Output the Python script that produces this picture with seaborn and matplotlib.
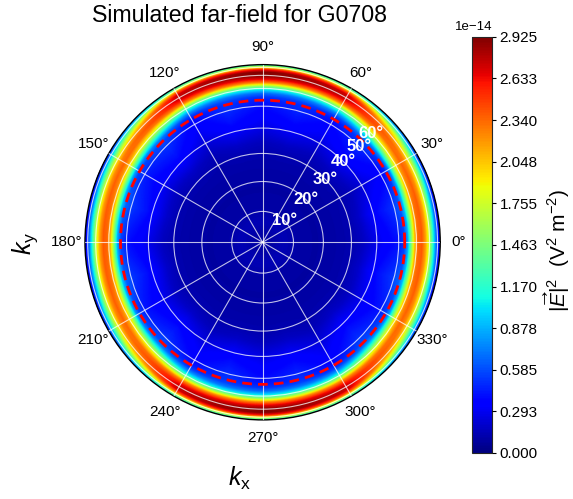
import numpy as np
import matplotlib
matplotlib.use("Agg")
import matplotlib.pyplot as plt
import seaborn as sns

# ---- data (intensity in units of 1e-14 V^2 m^-2) ----
SCALE = 1e-14
r_knots = [0.00, 0.05, 0.12, 0.20, 0.30, 0.40, 0.50, 0.56, 0.62, 0.68, 0.72, 0.76,
           0.80, 0.82, 0.84, 0.86, 0.88, 0.90, 0.92, 0.94, 0.96, 0.975, 0.99, 1.00]
# radial cut along kx (0 deg)
profile_0deg = [0.10, 0.10, 0.14, 0.10, 0.09, 0.10, 0.12, 0.16, 0.24, 0.32, 0.36, 0.40,
                0.55, 0.85, 1.50, 2.10, 2.35, 2.38, 2.15, 1.75, 1.20, 0.80, 0.45, 0.30]
# radial cut along ky (90 deg)
profile_90deg = [0.10, 0.10, 0.14, 0.10, 0.09, 0.10, 0.12, 0.16, 0.24, 0.32, 0.36, 0.40,
                 0.45, 0.52, 0.68, 1.00, 1.50, 2.20, 2.65, 2.90, 2.92, 2.60, 1.80, 1.20]
# weight of the ky cut as a function of azimuth within one quadrant
blend_angles_deg = [0, 15, 30, 45, 60, 75, 90]
blend_weights = [0.00, 0.05, 0.20, 0.50, 0.88, 0.95, 1.00]
# azimuthal unevenness of the faint speckled band inside the ring (every 15 deg)
band_angles_deg = [0, 15, 30, 45, 60, 75, 90, 105, 120, 135, 150, 165,
                   180, 195, 210, 225, 240, 255, 270, 285, 300, 315, 330, 345, 360]
band_factor = [1.00, 1.25, 0.85, 1.20, 0.90, 1.15, 0.95, 1.20, 0.85, 1.25, 1.10, 1.30,
               1.00, 1.30, 1.05, 1.25, 0.90, 1.20, 0.95, 1.15, 0.85, 1.25, 1.05, 1.30, 1.00]
band_r = [0.0, 0.45, 0.60, 0.78, 0.84, 1.0]
band_mask = [0.0, 0.0, 1.0, 1.0, 0.0, 0.0]

vmax = 2.925
cbar_ticks = [0.000, 0.2925, 0.585, 0.8775, 1.170, 1.4625, 1.755, 2.0475, 2.340, 2.6325, 2.925]
cbar_ticklabels = ["0.000", "0.293", "0.585", "0.878", "1.170", "1.463",
                   "1.755", "2.048", "2.340", "2.633", "2.925"]
radial_grid_deg = [10, 20, 30, 40, 50, 60, 70, 80]
radial_label_deg = [10, 20, 30, 40, 50, 60]
theta_ticks_deg = [0, 30, 60, 90, 120, 150, 180, 210, 240, 270, 300, 330]
na_radius = 0.80

# ---- style ----
sns.set_theme(style="white", rc={"text.color": "black", "xtick.color": "black",
                                 "ytick.color": "black", "axes.labelcolor": "black",
                                 "axes.axisbelow": False})
plt.rcParams["font.family"] = ["Liberation Sans", "DejaVu Sans"]
plt.rcParams["mathtext.fontset"] = "custom"
plt.rcParams["mathtext.rm"] = "Liberation Sans"
plt.rcParams["mathtext.it"] = "Liberation Sans:italic"
plt.rcParams["mathtext.bf"] = "Liberation Sans:bold"
cmap = matplotlib.colormaps["jet"]

# ---- far-field grid ----
theta = np.linspace(0, 2 * np.pi, 721)
r = np.linspace(0, 1, 301)
TH, RR = np.meshgrid(theta, r)
phi_q = np.degrees(np.arcsin(np.abs(np.sin(TH))))
w = np.interp(phi_q, blend_angles_deg, blend_weights)
p0 = np.interp(RR, r_knots, profile_0deg)
p90 = np.interp(RR, r_knots, profile_90deg)
base = (1 - w) * p0 + w * p90
speckle = np.interp(np.degrees(TH), band_angles_deg, band_factor)
mask = np.interp(RR, band_r, band_mask)
intensity = base * (1 + mask * (speckle - 1)) * SCALE

fig = plt.figure(figsize=(5.73, 4.99), dpi=100)
ax = fig.add_axes([0.1483, 0.158, 0.62, 0.713], projection="polar")
ax.set_axisbelow(False)
mesh = ax.pcolormesh(TH, RR, intensity, cmap=cmap, vmin=0, vmax=vmax * SCALE,
                     shading="gouraud", rasterized=True, zorder=0)

# NA circle
circ_t = np.linspace(0, 2 * np.pi, 400)
ax.plot(circ_t, np.full_like(circ_t, na_radius), color="red", lw=2,
        ls=(0, (3.5, 2.2)), zorder=3)

ax.set_ylim(0, 1)
ax.set_rticks(np.sin(np.radians(radial_grid_deg)))
ax.set_yticklabels([])
for d in radial_label_deg:
    ax.text(np.radians(45), np.sin(np.radians(d)), f"{d}°", color="white",
            fontweight="bold", fontsize=12, ha="center", va="center", zorder=4)
ax.set_thetagrids(theta_ticks_deg, labels=[f"{a}°" for a in theta_ticks_deg], fontsize=11)
ax.tick_params(axis="x", pad=0)
ax.grid(True, color="white", lw=0.8, alpha=0.75)
ax.spines["polar"].set_color("black")
ax.spines["polar"].set_linewidth(1.0)

# colorbar
cax = fig.add_axes([0.8237, 0.0922, 0.0358, 0.834])
cb = fig.colorbar(mesh, cax=cax, ticks=np.array(cbar_ticks) * SCALE)
cb.ax.set_yticklabels(cbar_ticklabels, fontsize=11)
cb.ax.tick_params(length=3, width=0.8, pad=2, colors="black")
cb.outline.set_linewidth(0.8)
fig.text(474 / 573, 1 - 27 / 499, "1e−14", ha="center", va="center", fontsize=9.5)
fig.text(557 / 573, 1 - 250 / 499,
         r"$|\overrightarrow{E}|^2$  (V$^2$ m$^{-2}$)",
         rotation=90, ha="center", va="center", fontsize=15)

# titles and axis names
fig.text(240 / 573, 1 - 16 / 499, "Simulated far-field for G0708",
         ha="center", va="center", fontsize=16.7)
fig.text(240 / 573, 1 - 478 / 499, r"$k_\mathrm{x}$", ha="center", va="center", fontsize=18)
fig.text(25 / 573, 1 - 243 / 499, r"$k_\mathrm{y}$", rotation=90,
         ha="center", va="center", fontsize=18)

fig.savefig("out.png", dpi=100)
